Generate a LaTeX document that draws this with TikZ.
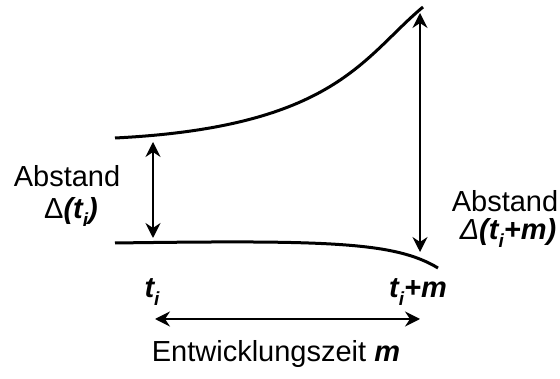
\documentclass[tikz,border=0pt]{standalone}
\usepackage{fontspec}
\setmainfont{Liberation Sans}
\usetikzlibrary{arrows.meta, positioning}
\newcommand{\tsub}[1]{\raisebox{-0.3em}{\fontsize{19}{19}\selectfont #1}}

\begin{document}
\begin{tikzpicture}[
    x=1pt, y=-1pt,
    curve/.style={line width=3pt},
    dist/.style={{Stealth[length=15pt, width=15pt, inset=5pt]}-{Stealth[length=15pt, width=15pt, inset=5pt]}, line width=1.6pt},
    lbl/.style={font=\fontsize{29}{34}\selectfont, inner sep=0pt}
]
\useasboundingbox (0,0) rectangle (560,379);

% curves
\coordinate (up0) at (115,138);
\coordinate (up1) at (423,7);
\coordinate (lo0) at (115,243);
\coordinate (lo1) at (438,268);
\draw[curve] (up0) .. controls (335,127) and (363,57) .. (up1);
\draw[curve] (lo0) .. controls (330,240) and (395,242) .. (lo1);

% distances
\coordinate (dl0) at (153,142);
\coordinate (dl1) at (153,238);
\coordinate (dr0) at (420,13);
\coordinate (dr1) at (420,252);
\draw[dist] (dl0) -- (dl1);
\draw[dist] (dr0) -- (dr1);

% labels
\node[lbl] (absl) at (67,176) {Abstand};
\node[lbl] (dell) at (71,212) {Δ\textbf{\textit{(t\tsub{i})}}};
\node[lbl] (absr) at (505,201) {Abstand};
\node[lbl] (delr) at (508,233) {\textit{Δ}\textbf{\textit{(t\tsub{i}+m)}}};
\node[lbl] (ti) at (152,292) {\textbf{\textit{t\tsub{i}}}};
\node[lbl] (tim) at (418,292) {\textbf{\textit{t\tsub{i}+m}}};

% time span
\coordinate (ts0) at (155,319);
\coordinate (ts1) at (420,319);
\draw[dist] (ts0) -- (ts1);
\node[lbl] (zeit) at (276,354) {Entwicklungszeit \textbf{\textit{m}}};

\end{tikzpicture}
\end{document}
